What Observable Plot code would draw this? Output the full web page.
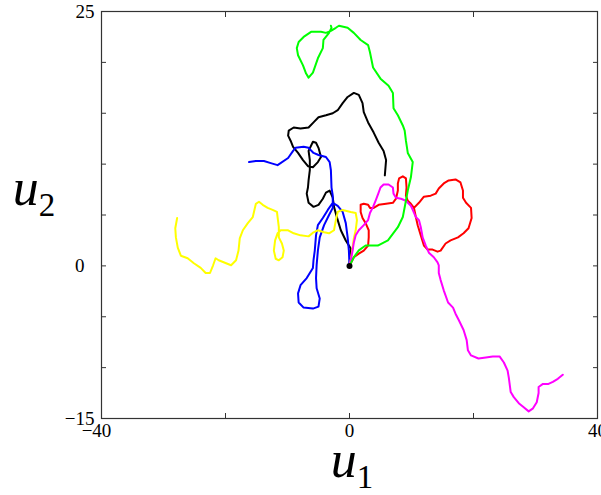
<!DOCTYPE html>
<html>
<head>
<meta charset="utf-8">
<script src="https://cdn.jsdelivr.net/npm/d3@7"></script>
<script src="https://cdn.jsdelivr.net/npm/@observablehq/plot@0.6"></script>
<style>
  html, body { margin: 0; padding: 0; background: #fff; }
</style>
</head>
<body>
<div id="chart"></div>
<script>
// Tick values
const xTickMarks = [-40, -20, 0, 20, 40];
const xTickLabelsLeft = [-40];
const xTickLabels = [0, 40];
const yTickMarks = [-15, -10, -5, 0, 5, 10, 15, 20, 25];
const yTickLabelsEnds = [-15, 25];
const yTickLabelsZero = [0];

// Trajectories (u1, u2), all starting at the origin
const greenPath = [[0,0],[0.69,0.84],[1.5,1.53],[2.6,2.0],[4.56,2.0],[6.2,2.5],[7.8,3.8],[8.6,4.8],[9.1,6.4],[9.4,7.4],[9.9,8.7],[10.2,10.2],[9.4,11.1],[9.1,12.3],[8.9,13.3],[8.6,13.8],[7.8,14.8],[7.1,15.5],[7.0,17.0],[6.3,17.7],[5.0,18.4],[3.8,19.5],[3.3,21.0],[3.0,21.7],[1.8,22.2],[0.7,22.9],[-0.3,23.4],[-1.7,23.6],[-2.2,23.4],[-3.0,23.1],[-3.8,22.9],[-4.6,23.0],[-6.2,23.0],[-7.4,22.5],[-8.2,22.0],[-8.5,21.4],[-8.3,20.7],[-7.5,19.7],[-7.0,18.9],[-6.6,18.5],[-5.9,19.0],[-5.1,20.4],[-4.3,21.4],[-4.2,22.2],[-3.3,22.9],[-2.9,23.4],[-3.0,23.6]];

const blackPath = [[0,0],[0.2,1.7],[-0.6,2.5],[-1.4,3.5],[-1.9,4.5],[-2.5,5.8],[-2.7,6.7],[-3.2,7.4],[-3.8,7.2],[-4.3,6.6],[-5.0,6.0],[-5.8,5.8],[-6.6,6.2],[-6.9,7.1],[-6.7,7.7],[-6.6,8.4],[-6.4,9.4],[-6.4,10.4],[-6.6,11.3],[-5.9,12.2],[-5.4,12.1],[-5.0,11.6],[-4.6,10.7],[-5.1,10.2],[-5.9,9.7],[-6.7,9.8],[-7.5,10.4],[-8.3,11.1],[-9.1,11.7],[-9.5,12.3],[-9.9,12.8],[-9.8,13.3],[-9.0,13.6],[-7.9,13.5],[-6.6,13.6],[-5.8,14.1],[-5.0,14.6],[-3.8,14.8],[-2.7,15.0],[-1.9,15.3],[-1.1,16.0],[-0.3,16.6],[0.7,17.0],[1.5,16.8],[2.1,16.0],[2.3,15.1],[3.0,14.1],[3.9,13.1],[4.7,12.1],[5.5,11.3],[5.9,10.4],[5.7,8.9]];

const bluePath = [[0,0],[-0.1,1.5],[-0.3,2.8],[-0.6,4.2],[-1.1,5.3],[-1.9,5.9],[-2.7,6.2],[-3.5,5.5],[-4.3,4.7],[-5.1,4.0],[-5.4,3.0],[-5.6,1.5],[-5.8,0.6],[-5.9,-0.2],[-6.9,-1.2],[-7.9,-1.9],[-8.3,-2.7],[-8.2,-3.6],[-7.4,-4.1],[-5.9,-4.2],[-5.0,-4.0],[-4.8,-3.2],[-5.3,-2.2],[-5.4,-1.2],[-5.3,0.1],[-5.1,1.5],[-4.8,2.8],[-4.1,4.0],[-3.3,5.0],[-2.7,5.7],[-2.7,6.9],[-2.9,7.7],[-3.0,9.4],[-3.2,10.2],[-3.8,10.7],[-5.0,10.9],[-5.8,11.1],[-6.6,11.6],[-7.4,11.7],[-8.7,11.6],[-9.1,11.3],[-9.9,10.6],[-11.6,9.9],[-12.7,10.1],[-13.8,10.3],[-15.1,10.3],[-16.2,10.2]];

const yellowPath = [[0,0],[0.2,0.55],[0.5,1.8],[0.7,2.7],[1.0,3.5],[1.2,4.5],[1.0,5.2],[0.2,5.3],[-1.1,5.5],[-1.9,5.3],[-2.2,4.5],[-2.5,3.5],[-3.3,3.2],[-4.1,3.3],[-5.1,3.5],[-5.8,3.3],[-6.6,2.9],[-7.9,3.0],[-9.0,3.2],[-9.9,3.5],[-11.1,3.5],[-11.6,3.2],[-12.0,2.5],[-12.2,1.5],[-11.9,0.7],[-11.4,0.55],[-10.8,0.85],[-10.6,1.5],[-10.9,2.2],[-11.4,2.8],[-11.4,3.8],[-11.6,4.8],[-11.7,5.3],[-12.4,5.5],[-13.2,5.7],[-14.0,6.0],[-14.6,6.3],[-15.1,6.1],[-15.6,4.8],[-16.4,4.2],[-17.2,3.5],[-17.7,2.7],[-17.9,1.5],[-18.3,0.55],[-19.1,0.06],[-19.9,0.26],[-21.1,0.55],[-21.6,0.75],[-22.0,0.06],[-22.5,-0.7],[-23.2,-0.7],[-24.0,-0.2],[-25.1,0.26],[-26.1,0.75],[-27.2,1.0],[-27.7,1.8],[-28.0,2.8],[-28.1,3.7],[-27.8,4.7]];

const redPath = [[0,0],[0.7,0.85],[1.5,1.2],[2.3,1.5],[3.0,2.0],[3.1,2.8],[3.1,3.5],[2.6,4.2],[2.1,4.7],[1.8,5.3],[1.8,6.0],[2.3,6.1],[3.0,6.0],[3.3,5.7],[3.9,5.7],[4.7,6.0],[5.9,6.1],[7.0,6.2],[7.5,6.6],[7.8,7.4],[7.8,8.1],[8.0,8.6],[8.6,8.8],[9.1,8.6],[9.2,7.7],[9.1,6.9],[9.4,6.4],[9.9,6.1],[10.4,5.7],[10.7,4.8],[11.0,4.0],[11.5,3.0],[12.0,2.0],[12.6,1.6],[13.4,1.6],[14.2,1.4],[14.7,1.5],[15.5,2.2],[16.3,2.5],[17.5,2.8],[18.4,3.2],[19.2,3.7],[19.7,4.7],[19.6,5.7],[18.8,6.2],[18.3,6.7],[18.3,7.4],[17.9,8.2],[17.1,8.5],[16.0,8.4],[15.2,8.1],[14.4,7.6],[13.9,7.1],[13.1,6.9],[12.0,6.8],[11.2,6.2],[10.4,5.7]];

const magentaPath = [[0,0],[0.2,0.55],[0.5,1.5],[0.7,2.3],[1.0,3.0],[1.5,3.5],[2.3,4.0],[3.0,4.5],[3.3,5.2],[3.8,5.8],[4.2,6.4],[4.7,7.2],[5.0,7.7],[5.5,8.0],[6.3,8.0],[7.0,7.7],[7.1,7.1],[7.5,6.7],[8.3,6.6],[9.1,6.4],[9.9,5.9],[10.2,5.5],[10.7,4.8],[11.2,4.5],[11.5,3.8],[11.8,2.8],[12.3,2.0],[12.8,1.3],[13.6,0.85],[14.2,0.35],[14.4,0.06],[14.4,-0.7],[14.7,-1.4],[15.2,-2.4],[15.9,-3.6],[16.7,-4.1],[17.1,-4.7],[17.6,-5.3],[18.4,-6.3],[18.9,-7.3],[19.1,-8.3],[19.6,-8.8],[20.8,-9.1],[22.0,-9.0],[23.1,-8.9],[24.2,-8.9],[24.9,-9.5],[25.5,-10.3],[25.7,-11.0],[26.0,-12.4],[26.5,-12.9],[27.3,-13.5],[28.1,-13.9],[28.9,-14.3],[29.6,-14.0],[30.2,-13.4],[30.5,-12.5],[30.5,-11.9],[31.2,-11.6],[32.1,-11.6],[32.8,-11.4],[33.6,-11.1],[34.4,-10.7]];

const startPoint = [[0, 0]];

const seriesList = [
  {path: blackPath, color: "#000000"},
  {path: bluePath, color: "#0000ff"},
  {path: yellowPath, color: "#ffff00"},
  {path: redPath, color: "#ff0000"},
  {path: magentaPath, color: "#ff00ff"},
  {path: greenPath, color: "#00ff00"}
];

const serif = "'Liberation Serif', 'DejaVu Serif', serif";
const axisColor = "#333";

const chart = Plot.plot({
  width: 601,
  height: 495,
  marginLeft: 101,
  marginRight: 4,
  marginTop: 11,
  marginBottom: 77,
  style: {fontFamily: serif, background: "white", overflow: "visible"},
  x: {domain: [-40, 40]},
  y: {domain: [-15, 25]},
  marks: [
    // inward ticks on all four sides
    Plot.axisX({anchor: "bottom", ticks: xTickMarks, tickSize: -5, tickFormat: () => "", stroke: axisColor, label: null}),
    Plot.axisX({anchor: "top", ticks: xTickMarks, tickSize: -5, tickFormat: () => "", stroke: axisColor, label: null}),
    Plot.axisY({anchor: "left", ticks: yTickMarks, tickSize: -5, tickFormat: () => "", stroke: axisColor, label: null}),
    Plot.axisY({anchor: "right", ticks: yTickMarks, tickSize: -5, tickFormat: () => "", stroke: axisColor, label: null}),
    // tick labels
    Plot.axisX({anchor: "bottom", ticks: xTickLabelsLeft, tickSize: 0, tickPadding: 5, dx: -5, fontSize: 19, fill: "#000", label: null}),
    Plot.axisX({anchor: "bottom", ticks: xTickLabels, tickSize: 0, tickPadding: 5, fontSize: 19, fill: "#000", label: null}),
    Plot.axisY({anchor: "left", ticks: yTickLabelsEnds, tickSize: 0, tickPadding: 7, fontSize: 19, fill: "#000", label: null}),
    Plot.axisY({anchor: "left", ticks: yTickLabelsZero, tickSize: 0, tickPadding: 17, fontSize: 19, fill: "#000", label: null}),
    ...seriesList.map(s => Plot.line(s.path, {x: d => d[0], y: d => d[1], stroke: s.color, strokeWidth: 2, strokeLinejoin: "round", strokeLinecap: "round"})),
    Plot.dot(startPoint, {x: d => d[0], y: d => d[1], r: 3, fill: "black", stroke: "none"}),
    Plot.frame({stroke: axisColor, strokeWidth: 1.2})
  ]
});

document.getElementById("chart").appendChild(chart);

// Axis titles with subscripts
const svg = d3.select(chart);
const xt = svg.append("text")
  .attr("x", 352).attr("y", 477)
  .attr("text-anchor", "middle")
  .style("font-family", serif).style("font-style", "italic").style("font-size", "52px").attr("fill", "#000");
xt.append("tspan").text("u");
xt.append("tspan").attr("dy", 11).style("font-size", "33px").style("font-style", "normal").text("1");

const yt = svg.append("text")
  .attr("x", 34).attr("y", 205)
  .attr("text-anchor", "middle")
  .style("font-family", serif).style("font-style", "italic").style("font-size", "52px").attr("fill", "#000");
yt.append("tspan").text("u");
yt.append("tspan").attr("dy", 11).style("font-size", "33px").style("font-style", "normal").text("2");
</script>
</body>
</html>
